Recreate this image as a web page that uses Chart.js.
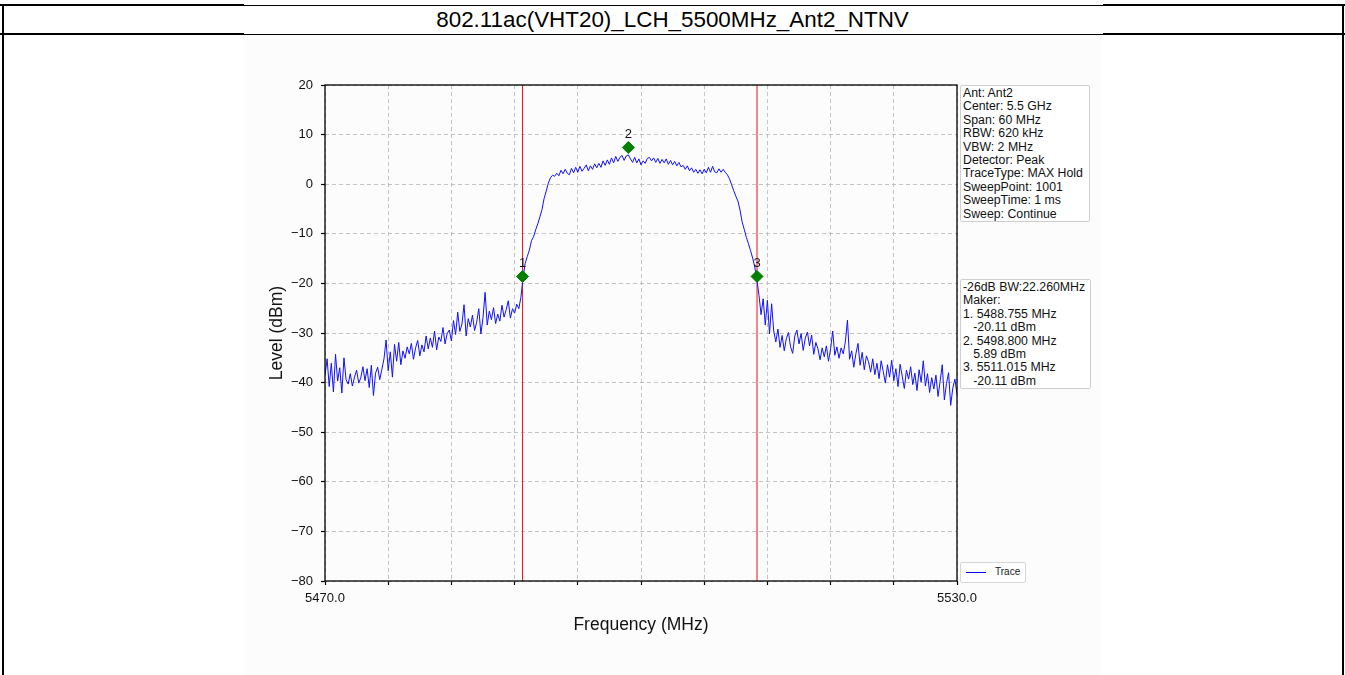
<!DOCTYPE html>
<html>
<head>
<meta charset="utf-8">
<script src="https://cdn.jsdelivr.net/npm/chart.js@4.4.1/dist/chart.umd.min.js"></script>
<style>
  body { margin: 0; background: #fff; font-family: "Liberation Sans", Arial, sans-serif; }
  #page { position: relative; width: 1345px; height: 675px; overflow: hidden; }
  .hl { position: absolute; background: #000; }
  .vl { position: absolute; background: #000; }
  #title { position: absolute; left: 0; width: 1345px; top: 6px; height: 27px; line-height: 27px;
           text-align: center; font-size: 22.4px; color: #000; }
  #plotBox { position: absolute; left: 245px; top: 35px; width: 857px; height: 640px; background: #fcfcfc; }
  .info { position: absolute; background: #fff; border: 1px solid #cfcfcf; border-radius: 2px;
          font-size: 12.3px; line-height: 13.4px; color: #111; padding: 1px 2px; white-space: pre; }
  #legend { position: absolute; left: 960px; top: 562px; width: 64px; height: 19px; background: #fff;
            border: 1px solid #d6d6d6; border-radius: 2px; font-size: 10px; }
  #legend .ln { position: absolute; left: 5px; top: 9px; width: 20px; height: 1px; background: #0000ff; }
  #legend .tx { position: absolute; left: 34px; top: 3px; color: #222; }
</style>
</head>
<body>
<div id="page">
  <div class="hl" style="left:0;top:5px;width:1345px;height:1px"></div>
  <div class="hl" style="left:0;top:4px;width:244px;height:2px"></div>
  <div class="hl" style="left:1103px;top:4px;width:242px;height:2px"></div>
  <div class="hl" style="left:0;top:34px;width:1345px;height:1px"></div>
  <div class="hl" style="left:0;top:33px;width:244px;height:2px"></div>
  <div class="hl" style="left:1103px;top:33px;width:242px;height:2px"></div>
  <div class="vl" style="left:2px;top:4px;width:2px;height:671px"></div>
  <div class="vl" style="left:1342px;top:4px;width:2px;height:671px"></div>
  <div id="title">802.11ac(VHT20)_LCH_5500MHz_Ant2_NTNV</div>
  <div id="plotBox"><canvas id="chart" width="857" height="640"></canvas></div>
  <div class="info" id="info1" style="left:960px;top:85px;width:124px;height:133px"></div>
  <div class="info" id="info2" style="left:960px;top:279px;width:125px;height:106px"></div>
  <div id="legend"><div class="ln"></div><div class="tx">Trace</div></div>
</div>
<script>
// sweep grid
const START_MHZ = 5470.0;
const STEP_MHZ = 0.2;

// trace level (dBm), one value per 0.2 MHz, 5470.0 .. 5530.0
const levels = [
  -38.5, -35.2, -40.8, -36.1, -41.9, -34.3, -39.7, -37.0, -42.1, -35.0,
  -39.4, -40.3, -38.2, -40.7, -38.9, -37.5, -40.1, -39.0, -36.8, -39.6,
  -37.2, -41.0, -36.5, -42.6, -38.1, -36.9, -39.4, -37.3, -35.2, -31.4,
  -37.6, -33.8, -38.9, -32.3, -35.7, -31.9, -36.4, -33.6, -35.1, -32.8,
  -34.2, -32.1, -35.3, -33.0, -31.5, -34.6, -32.4, -33.8, -30.6, -33.2,
  -31.0, -32.9, -29.6, -33.4, -30.8, -31.7, -28.9, -32.2, -30.1, -29.4,
  -31.6, -27.5, -30.3, -25.8, -29.7, -28.2, -24.3, -30.6, -27.1, -28.8,
  -26.4, -29.5, -27.8, -25.1, -30.2, -26.9, -21.8, -28.4, -25.6, -27.3,
  -24.9, -28.1, -26.2, -27.6, -24.4, -26.8, -25.3, -23.5, -27.0, -25.1,
  -26.0, -24.2, -25.1, -22.8, -18.9, -16.0, -14.6, -13.3, -11.4, -10.6,
  -9.2, -8.0, -6.6, -5.1, -2.9, -1.4, 0.2, 1.3, 1.8, 1.6,
  2.2, 1.7, 2.8, 2.1, 3.0, 2.2, 1.9, 3.2, 2.3, 3.4,
  2.4, 3.6, 2.6, 3.2, 3.9, 2.7, 3.7, 3.0, 4.1, 3.3,
  4.2, 3.4, 4.7, 3.8, 4.9, 4.0, 5.3, 4.3, 5.6, 4.6,
  5.4, 5.8, 4.8, 5.7, 5.9, 5.1, 4.4, 5.4, 4.3, 5.1,
  3.9, 4.7, 4.2, 5.2, 5.4, 4.7, 5.3, 4.4, 5.2, 4.2,
  5.0, 4.3, 5.1, 4.0, 4.8, 3.9, 4.6, 3.7, 4.4, 3.5,
  3.8, 3.0, 3.7, 2.7, 3.3, 2.4, 3.0, 2.2, 2.9, 2.1,
  3.0, 2.3, 3.4, 2.4, 3.6, 2.5, 2.3, 3.1, 2.4, 3.0,
  2.4, 1.9, 1.1, -0.1, -1.3, -2.4, -3.4, -5.2, -7.6, -9.1,
  -10.7, -12.0, -13.4, -14.9, -16.7, -19.2, -22.4, -26.3, -23.1, -28.4,
  -23.4, -30.2, -24.1, -29.6, -31.8, -29.2, -32.9, -30.5, -33.6, -31.1,
  -29.9, -32.8, -34.1, -30.6, -29.4, -32.2, -30.1, -33.5, -31.0, -29.8,
  -32.6, -30.4, -34.3, -31.9, -33.2, -35.4, -33.0, -34.8, -32.6, -35.7,
  -33.2, -29.6, -34.5, -32.8, -35.1, -33.0, -34.2, -31.8, -27.4, -35.3,
  -33.6, -36.9, -34.2, -32.1, -36.5, -33.9, -37.4, -34.6, -35.8, -37.9,
  -35.2, -38.4, -36.1, -39.2, -35.6, -37.8, -40.1, -36.4, -38.9, -35.5,
  -39.6, -37.2, -40.8, -36.3, -38.7, -41.2, -37.5, -39.3, -36.8, -40.4,
  -38.1, -41.6, -37.4, -39.9, -35.6, -40.7, -38.2, -42.0, -39.0, -41.3,
  -38.5, -42.8, -39.7, -36.4, -43.5, -40.2, -38.0, -44.6, -41.1, -39.3,
  -42.4
];

// markers (as drawn on the plot)
const markerFreqs = [5488.755, 5498.8, 5511.015];
const markerLevels = [-18.6, 7.4, -18.6];
const markerNames = ["1", "2", "3"];
const bwLineFreqs = [5488.755, 5511.015];

const xMin = 5470, xMax = 5530, xStep = 6;
const yMin = -80, yMax = 20, yStep = 10;

const infoLines1 = [
  "Ant: Ant2", "Center: 5.5 GHz", "Span: 60 MHz", "RBW: 620 kHz", "VBW: 2 MHz",
  "Detector: Peak", "TraceType: MAX Hold", "SweepPoint: 1001", "SweepTime: 1 ms", "Sweep: Continue"
];
const infoLines2 = [
  "-26dB BW:22.260MHz", "Maker:", "1. 5488.755 MHz", "   -20.11 dBm",
  "2. 5498.800 MHz", "   5.89 dBm", "3. 5511.015 MHz", "   -20.11 dBm"
];

document.getElementById("info1").textContent = infoLines1.join("\n");
document.getElementById("info2").textContent = infoLines2.join("\n");

const tracePoints = levels.map((v, i) => ({ x: START_MHZ + i * STEP_MHZ, y: v }));
const markerPoints = markerFreqs.map((f, i) => ({ x: f, y: markerLevels[i] }));

const bwDatasets = bwLineFreqs.map(f => ({
  type: "line",
  data: [{ x: f, y: yMin }, { x: f, y: yMax }],
  borderColor: "#e8141a",
  borderWidth: 1,
  pointRadius: 0,
  order: 3
}));

const fontName = '"Liberation Sans", Arial, sans-serif';

const frameAndLabels = {
  id: "frameAndLabels",
  afterDatasetsDraw(chart) {
    const { ctx, chartArea } = chart;
    ctx.save();
    // axes box
    ctx.strokeStyle = "#000";
    ctx.lineWidth = 1.3;
    ctx.strokeRect(chartArea.left, chartArea.top, chartArea.right - chartArea.left, chartArea.bottom - chartArea.top);
    // marker numbers
    const meta = chart.getDatasetMeta(0);
    ctx.fillStyle = "#111";
    ctx.font = "13px " + fontName;
    ctx.textAlign = "center";
    ctx.textBaseline = "middle";
    meta.data.forEach((pt, i) => {
      ctx.fillText(markerNames[i], pt.x, pt.y - 13);
    });
    ctx.restore();
  }
};

new Chart(document.getElementById("chart"), {
  type: "scatter",
  data: {
    datasets: [
      {
        label: "Markers",
        data: markerPoints,
        showLine: false,
        pointStyle: "rectRot",
        pointRadius: 6,
        backgroundColor: "#008000",
        borderColor: "#008000",
        order: 1
      },
      {
        label: "Trace",
        data: tracePoints,
        showLine: true,
        borderColor: "#1010ff",
        borderWidth: 1,
        pointRadius: 0,
        tension: 0,
        order: 2
      },
      ...bwDatasets
    ]
  },
  options: {
    responsive: false,
    animation: false,
    layout: { padding: { top: 50, right: 145, left: 0, bottom: 0 } },
    plugins: { legend: { display: false }, tooltip: { enabled: false } },
    scales: {
      x: {
        type: "linear",
        min: xMin,
        max: xMax,
        afterFit(scale) { scale.height = 94; },
        grid: { color: "#b4b4b4", lineWidth: 0.8, tickLength: 4, tickColor: "#000", tickWidth: 1.2 },
        border: { display: false, dash: [4, 3] },
        ticks: {
          stepSize: xStep,
          autoSkip: false,
          maxRotation: 0,
          padding: 6,
          color: "#111",
          font: { family: fontName, size: 13 },
          callback: v => (v === xMin || v === xMax) ? v.toFixed(1) : ""
        },
        title: {
          display: true,
          text: "Frequency (MHz)",
          color: "#111",
          font: { family: fontName, size: 17.5 },
          padding: { top: 0, bottom: 39 }
        }
      },
      y: {
        min: yMin,
        max: yMax,
        afterFit(scale) { scale.width = 80; },
        grid: { color: "#b4b4b4", lineWidth: 0.8, tickLength: 4, tickColor: "#000", tickWidth: 1.2 },
        border: { display: false, dash: [4, 3] },
        ticks: {
          stepSize: yStep,
          padding: 8,
          color: "#111",
          font: { family: fontName, size: 13 },
          callback: v => v < 0 ? "\u2212" + Math.abs(v) : String(v)
        },
        title: {
          display: true,
          text: "Level (dBm)",
          color: "#111",
          font: { family: fontName, size: 17.5 },
          padding: { top: 22, bottom: 0 }
        }
      }
    }
  },
  plugins: [frameAndLabels]
});
</script>
</body>
</html>
